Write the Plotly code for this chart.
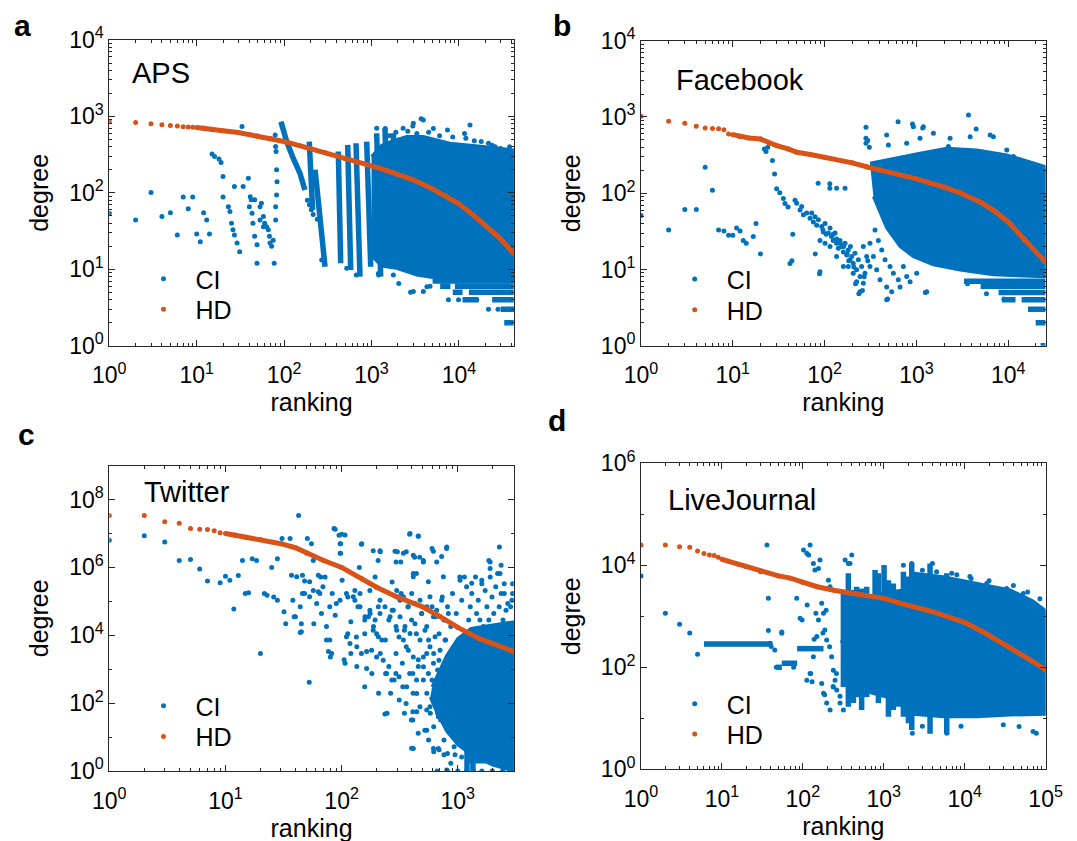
import plotly.graph_objects as go
from plotly.subplots import make_subplots

BLUE = "#0072BD"
ORANGE = "#D95319"
AXIS = "#262626"
FONT = "Liberation Sans, Arial, Helvetica, sans-serif"
W, H = 1077, 841
OFF = 8  # the html page puts the figure 8px in from the corner

# ---------------- a: APS ----------------
aps_hd_rank = [1, 2, 3, 4, 5, 6, 7, 8, 9, 10, 12, 15, 20, 30, 40, 50, 70, 100, 150, 200, 300,
               500, 700, 1000, 1500, 2000, 3000, 5000, 7000, 10000, 15000, 20000, 30000, 42500]
aps_hd_degree = [850, 830, 800, 780, 760, 750, 735, 728, 722, 718, 705, 680, 650, 615, 580, 555, 515,
                 470, 415, 380, 335, 280, 250, 225, 195, 175, 148, 112, 92, 72, 50, 38, 25, 16]
aps_ci_rank = [1, 2, 3, 4, 5, 6, 7, 8, 9, 10, 11, 12, 13, 14,
               15, 16, 18, 19, 20, 20, 23, 24, 25, 26, 27, 29, 31, 27, 33, 34, 39,
               41, 42, 46, 40, 43, 44, 46, 49, 55, 53, 58, 60, 63, 66, 68, 69, 72, 75,
               49, 77, 53, 58, 79, 80, 81, 82, 83, 82, 80, 80,
               185, 195, 205, 215, 240, 269, 520, 670, 1208, 1778,
               1146, 1436, 2050, 2970, 3010, 3700, 3917, 5100, 7400, 11600, 13400, 21800, 26000, 34000,
               1200, 2050, 2800, 3010, 3917, 4300, 4670, 7590, 9900, 16000, 21800, 28000, 36000, 41700,
               1600, 1900, 2300, 2600, 3300, 4500, 6000, 8500, 12000, 15000, 18000, 24000, 30000, 38000]
aps_ci_degree = [54, 44, 101, 49, 55, 28, 88, 62, 88, 29, 23, 55, 44, 29,
                 323, 300, 277, 250, 164, 88, 66, 57, 40, 33, 28, 22, 17, 121, 736, 121, 155,
                 89, 81, 81, 66, 54, 40, 27, 21, 73, 66, 49, 40, 36, 33, 27, 22, 20, 24,
                 12, 12, 44, 36, 573, 404, 348, 200, 140, 94, 66, 44,
                 80, 70, 60, 52, 45, 13.2, 10.3, 8.4, 8.4, 8.4,
                 700, 695, 490, 750, 815, 930, 900, 695, 665, 600, 775, 445, 400, 325,
                 8.8, 6.5, 5, 5.1, 5.1, 5.9, 6.0, 4.0, 4.0, 4.0, 3, 3, 2, 3,
                 560, 620, 700, 640, 600, 620, 560, 540, 520, 480, 470, 420, 380, 400]
# dense core of the CI cloud (outline)
aps_cloud_rank = [1000, 1309, 1778, 2528, 3917, 7907, 19010, 42500, 42500, 7907, 3289, 1941, 1300, 1000]
aps_cloud_degree = [300, 420, 480, 545, 545, 446, 403, 364, 6.9, 7.2, 8.4, 10.3, 11, 15]
# diagonal streaks of CI points and the rows of equal low degree
aps_streak_rank = [92, 107, 127, 152, 173, None, 194, 212, None, 226, 294, None, 417, 444, None,
                   534, 578, None, 665, 738, None, 881, 979, None, 1146, 1274, None, 1426, 1558, None,
                   1778, 1941, None,
                   5000, 42500, None, 6100, 8000, None, 9000, 42500, None, 8500, 11000, None,
                   13000, 42500, None, 11000, 16700, None, 24000, 42500, None, 30000, 42500, None,
                   33000, 42500]
aps_streak_degree = [855, 468, 284, 180, 109, None, 468, 60, None, 200, 10.8, None, 347, 12, None,
                     424, 9.8, None, 446, 8.0, None, 468, 10.8, None, 603, 8.0, None, 700, 10.8, None,
                     603, 13.2, None,
                     7, 7, None, 6, 6, None, 6, 6, None, 5, 5, None,
                     5, 5, None, 4, 4, None, 4, 4, None, 3, 3, None,
                     2, 2]

# ---------------- b: Facebook ----------------
fb_hd_rank = [1, 2, 3, 4, 5, 6, 7, 8, 9, 10, 12, 15, 20, 25, 30, 40, 50, 70, 100, 200, 300, 500,
              1000, 2000, 3000, 5000, 7000, 10000, 15000, 20000, 25500]
fb_hd_degree = [1018, 875, 825, 753, 716, 703, 700, 680, 598, 586, 552, 530, 514, 451, 421, 381, 344,
                321, 296, 250, 219, 189, 154, 120, 101, 76, 59, 42, 24, 17, 12.5]
fb_ci_rank = [1, 2, 3, 4, 5, 6, 7, 8, 9, 10, 11, 12, 13, 14, 16.7, 17.9, 20,
              22, 23, 24, 27, 28.5, 30, 32.5, 35.5, 37, 40, 42, 44, 45,
              47.6, 49.6, 54, 56.2, 58.7, 63.8, 69.4, 72.3, 75.4, 78.6, 82, 85.5, 93, 96.9, 101,
              110, 114.5, 119, 124, 130, 135, 141, 147, 153, 160,
              167, 174, 181, 189, 197, 205, 214, 223, 233, 243, 253, 264, 275, 223, 243,
              135, 160, 114.5, 101, 89, 181, 205, 287, 312, 264,
              88, 96, 104, 114, 124, 135, 148, 161, 176, 183, 191, 208, 217, 236, 258,
              270, 295, 85, 114, 135, 167, 79, 89, 474, 282, 295, 307,
              282, 282, 474, 495, 631, 783, 905, 927, 1094, 1170, 1191, 1531, 2230, 2328,
              3690, 3850, 4470, 6350, 6890, 9640, 11400, 485, 1250, 1294, 3600, 5790, 8950,
              354, 385, 419, 455, 516, 561, 635, 721, 783, 312, 340, 369, 401, 474, 538, 663, 853, 1007]
fb_ci_degree = [51, 33, 61, 61, 219, 109, 33, 32, 28, 28, 35, 32, 24, 22, 27, 40, 16,
                381, 351, 400, 268, 179, 114, 101, 85, 73, 66, 12, 13, 29,
                81, 74, 60, 67, 52, 55, 47, 55, 42, 49, 38, 45, 36.5, 31, 40,
                30, 35, 27, 24, 30, 22, 19, 24, 20, 17,
                22, 15.5, 18, 13.4, 14.8, 12.1, 16.3, 9.9, 13.4, 8.1, 10.9, 6.6, 8.9, 6.9, 5.1,
                14.8, 10.9, 20, 22, 24, 10.9, 8.9, 14.8, 10.9, 20,
                8.8, 33, 29, 133, 29, 25, 22, 20, 16, 13, 20, 10.8, 6.5, 4.8, 5.3,
                8, 13, 135, 116, 116, 116, 16, 9.3, 4.0, 731, 490, 400,
                525, 451, 579, 429, 867, 451, 808, 745, 525, 716, 745, 610, 410, 525,
                1062, 551, 695, 579, 551, 368, 302, 4.1, 5, 5.1, 6.5, 4.8, 4.1,
                33, 24, 18, 13.4, 10.9, 8.9, 7.3, 10.9, 8.1, 22, 14.8, 9.9, 7.3, 5.9, 5.1, 5.9, 6.9, 8.9]
fb_cloud_rank = [312, 561, 1094, 2138, 4540, 9640, 25500, 25500, 6890, 2990, 1531, 927, 663, 474, 340]
fb_cloud_degree = [247, 287, 334, 388, 369, 318, 223, 8.0, 8.5, 9.8, 11.5, 14.7, 20, 35, 90]
fb_streak_rank = [3300, 25500, None, 5000, 25500, None, 7850, 25500, None, 8550, 12000, None,
                  14000, 25500, None, 16400, 25500, None, 19900, 25500, None, 22500, 25500]
fb_streak_degree = [7, 7, None, 6, 6, None, 5, 5, None, 4, 4, None,
                    4, 4, None, 3, 3, None, 2, 2, None, 1, 1]

# ---------------- c: Twitter ----------------
tw_hd_rank = [1, 2, 3, 4, 5, 6, 7, 8, 9, 10, 12, 15, 20, 30, 40, 50, 70, 100, 150, 200, 300, 500,
              700, 1000, 1500, 2000, 3035]
tw_hd_degree = [3.4e7, 3.4e7, 2.2e7, 2.0e7, 1.4e7, 1.33e7, 1.3e7, 1.2e7, 1.05e7, 1.0e7, 9.0e6, 7.8e6,
                6.6e6, 5.0e6, 3.8e6, 2.6e6, 1.6e6, 1.0e6, 4.6e5, 2.6e5, 1.35e5, 6.8e4, 3.6e4, 1.7e4,
                8.2e3, 5.5e3, 3.3e3]
tw_ci_rank = [1, 2, 3, 4, 5, 6, 7, 9, 10, 10.9, 11.8, 12.9, 14.8, 15.8, 14, 17, 18.5, 20, 21.6, 22.8,
              25, 26, 28, 28, 30.7,
              31.9, 33, 36, 37, 40, 42.6, 44, 46, 48, 50.7, 52.6, 55, 57, 57.6, 63, 65, 67, 72, 74, 77,
              80, 83, 86, 90, 95,
              98, 98, 101, 105, 113, 120, 130, 138, 142, 148, 158, 170, 181, 194, 207, 215, 222, 236,
              246, 255, 272, 294, 302, 312, 325,
              347, 360, 385, 400, 410, 425, 440, 457, 470, 505, 520, 540, 600, 620, 670, 690, 760, 800,
              870, 930, 1140, 1850, 2280, 2360, 2510, 2960, 2920,
              113, 120, 134, 148, 158, 176, 188, 200, 215, 238, 255, 272, 294, 312, 333, 360, 372, 400,
              410, 440, 457, 488, 505, 540, 560,
              600, 620, 645, 670, 690, 715, 735, 760, 785, 815, 840, 870, 900, 930, 970, 1000, 1040,
              1080, 1110, 1190, 1240, 1280, 1320, 1420, 1450,
              1500, 1550, 1610, 1660, 1720, 1780, 1850, 1900, 1970, 2040, 2120, 2200, 2270, 2360, 2450,
              2510, 2600, 2690, 2790, 2850, 2960,
              410, 540, 620, 760, 815, 870, 930, 1080, 664, 815, 1000, 1187, 1360, 1610, 1980, 2430, 3035,
              88, 100, 107, 97, 149, 97, 388, 457, 187, 214, 206, 288, 340, 294, 323, 414, 617, 726,
              803, 505, 414, 414, 658, 558, 751,
              1045, 1318, 1607, 1897, 1897, 2307, 41, 48, 53, 57, 63, 69, 66, 38, 46, 44, 39, 45, 45,
              53, 61, 79, 88, 97, 110,
              126, 144, 175, 214, 74, 79, 82, 107, 135, 164, 110, 118, 135, 164, 200, 228, 244, 270,
              363, 443, 576, 680, 443, 540,
              617, 680, 414, 946, 803,
              298, 318, 340, 375, 401, 428, 473, 489, 540, 576, 617, 658, 726, 776, 829, 318, 351, 388,
              428, 473, 522, 576, 637, 703, 776, 857, 340, 375, 414, 457, 505, 558, 617, 680, 751, 829,
              916, 979, 298, 279, 261, 236, 214, 194, 175, 159, 144, 130, 187, 207,
              293, 336, 359, 412, 441, 472, 506, 541, 580, 600, 642, 688, 712, 736, 762, 815, 844, 873,
              922, 968, 264, 283, 313, 347, 385, 398, 456, 560, 208, 239, 158, 182]
tw_ci_degree = [6.3e6, 8.5e6, 5.6e6, 1.6e6, 1.7e6, 8.9e5, 4.0e5, 3.5e5, 5.5e5, 4.2e5, 5.9e4, 5.8e5,
                1.7e5, 1.8e5, 1.6e6, 1.8e6, 1.6e6, 2.9e3, 1.7e5, 1.5e5, 1.0e6, 1.35e5, 1.8e6, 1.08e5,
                7.1e6,
                4.9e4, 2.2e4, 7.1e6, 5.9e5, 3.5e4, 3.4e7, 1.2e4, 5.9e5, 1.7e5, 7.1e6, 410, 5.0e6, 1.6e6,
                2.2e4, 5.9e5, 1.7e5, 4.4e4, 5.2e5, 7.2e3, 3.3e3, 2.3e3, 1.7e5, 1.4e7, 8.7e4, 8.9e6,
                5.0e6, 2.6e6, 4.2e5, 1.9e3, 1.35e5, 2.5e4, 2.1e5, 6.9e4, 1.0e6, 4.8e6, 1.1e4, 3.5e4,
                3.6e3, 5.2e5, 6.9e4, 2.9e6, 7.2e3, 48, 50, 2.8e4, 3.7e5, 2.9e3, 2.9e6, 600, 1.7e5,
                1.4e4, 2.9e6, 9.5e6, 4.7, 56, 2.0e6, 6.6e5, 8.3e6, 2.0e6, 1.6e6, 16, 2.9e3, 3.6e6, 3.7,
                50, 4.2, 3, 3.6e6, 63, 25, 5.2e5, 1.6e6, 4.0e6, 1.15e6, 1.7e5, 3.3e5, 1.08e5,
                1.1e4, 2.9e3, 8.9e3, 2.9e3, 2.8e4, 4.4e4, 1.8e4, 1.1e4, 2.9e3, 7.2e3, 1.2e3, 5.5e4,
                1.8e4, 8.9e3, 1.5e3, 4.6e3, 6.9e4, 2.8e4, 750, 1.1e4, 1.9e3, 4.4e4, 480, 1.8e4, 7.2e3,
                6.9e4, 2.9e3, 3.5e4, 940, 1.1e4, 300, 1.35e5, 2.8e4, 7.2e3, 6.9e4, 750, 1.8e4, 1.7e5,
                3.6e3, 4.4e4, 1.2e3, 5.2e5, 1.08e5, 300, 2.7e5, 2.8e4, 6.9e4, 1.7e5, 5.2e5, 4.4e4,
                1.08e5, 2.8e4, 3.3e5, 1.8e4, 2.1e5, 6.9e4, 2.8e4, 5.2e5, 1.35e5, 4.4e4, 2.7e5, 6.6e5,
                6.9e4, 1.7e5, 2.8e4, 3.3e5, 5.5e4, 8.7e4, 2.2e4, 6.9e4, 1.7e5,
                32, 63, 20, 8.2, 3.3, 1.7, 5.2, 2.6, 1, 1, 1, 1, 1, 1, 1, 1, 1,
                1.33e7, 9.5e6, 9.0e6, 5.0e6, 5.0e6, 2.6e6, 1.0e7, 8.4e6, 3.1e6, 3.1e6, 1.6e6, 3.0e6,
                2.6e6, 1.45e6, 1.45e6, 2.3e6, 3.0e6, 2.1e6, 4.0e6, 1.45e6, 6.6e5, 5.3e5, 1.45e6,
                3.75e5, 5.3e5,
                4.2e5, 3.4e5, 4.2e5, 9.3e5, 1.45e6, 6.6e5, 5.3e5, 4.0e5, 3.75e5, 2.1e5, 1.9e5, 2.7e5,
                5.2e5, 1.08e5, 1.7e5, 6.9e4, 3.5e4, 2.2e4, 1.26e4, 1.36e5, 8.6e4, 6.9e4, 3.9e4, 1.08e5,
                1.7e5,
                1.36e5, 1.7e5, 2.1e5, 1.08e5, 1.8e4, 7.2e3, 2.9e3, 1.5e3, 1.2e3, 1.05e3, 9e3, 5.7e3,
                4.6e3, 3.3e3, 2.3e3, 1.85e3, 750, 478, 303, 193, 78, 40, 56, 16,
                4.6, 4.6, 4.6, 3.0, 1.07,
                2.1e5, 1.08e5, 1.36e5, 6.9e4, 1.7e5, 8.6e4, 1.08e5, 4.4e4, 6.9e4, 1.36e5, 3.5e4, 5.5e4,
                1.08e5, 2.8e4, 4.4e4, 3.5e4, 1.8e4, 1.13e4, 2.2e4, 7.2e3, 1.4e4, 4.6e3, 9.0e3, 3.6e3,
                7.2e3, 2.3e3, 7.2e3, 3.6e3, 2.3e3, 1.2e3, 2.3e3, 750, 1.5e3, 478, 940, 303, 123, 193,
                1.4e4, 5.5e4, 3.5e4, 6.9e4, 4.4e4, 2.8e4, 5.5e4, 3.5e4, 6.9e4, 1.08e5, 1.4e4, 9.0e3,
                750, 304, 98, 194, 478, 78, 1.18e3, 194, 50, 478, 98, 1.85e3, 32, 304, 750, 78, 20, 381,
                154, 10, 194, 478, 123, 50, 750, 32, 13, 8.2, 194, 750, 304, 750]
tw_cloud_rank = [600, 800, 1000, 1300, 2000, 3035, 3035, 2000, 1300, 1000, 800, 650, 580]
tw_cloud_degree = [300, 2500, 8000, 1.6e4, 2.0e4, 2.5e4, 1, 1.5, 3, 6, 15, 60, 150]
tw_streak_rank = [1187, 3035, None, 1187, 3035, None, 1200, 1200, None, 1350, 1350]
tw_streak_degree = [2, 2, None, 3, 3, None, 12, 1, None, 8, 1]

# ---------------- d: LiveJournal ----------------
lj_hd_rank = [1, 2, 3, 4, 5, 6, 7, 8, 9, 10, 12, 16, 20, 30, 50, 70, 100, 150, 250, 400, 600, 1000,
              1500, 2500, 4000, 6500, 10000, 18000, 30000, 47000, 70000, 100000]
lj_hd_degree = [2.5e4, 2.5e4, 2.3e4, 2.25e4, 1.9e4, 1.7e4, 1.6e4, 1.55e4, 1.44e4, 1.31e4, 1.2e4,
                1.05e4, 9.4e3, 7.5e3, 6.2e3, 5.6e3, 4.6e3, 3.8e3, 3.2e3, 2.8e3, 2.55e3, 2.25e3,
                1.85e3, 1.5e3, 1.23e3, 950, 760, 465, 290, 188, 129, 89]
lj_ci_rank = [1, 2, 3, 4, 5, 36, 37.5, 37.5, 39.3, 40.6, 45, 47, 54.8, 55, 77,
              84, 92.4, 102, 112, 118, 123, 135, 141, 156, 163, 171, 180, 187, 197, 207, 217, 227, 238,
              250, 262, 112, 123, 135, 149, 156,
              171, 180, 197, 217, 238, 288, 317, 383, 402, 333, 365, 98, 113, 125, 130, 145, 138, 177,
              194, 214, 186, 237, 260, 288, 350,
              1749, 2217, 3990, 6920, 11600, 18700, 33000, 53000, 2256, 6010, 3000, 9000, 30000, 47000,
              70000, 76800,
              3000, 4500, 8000, 12000, 20000, 40000, 60000, 85000]
lj_ci_degree = [6.2e3, 1.15e3, 700, 470, 180, 2.5e4, 2.25e3, 525, 295, 255, 219, 100, 464, 490, 100,
                2.25e3, 914, 2.0e4, 1.72e4, 1.6e4, 2.5e4, 1.09e4, 8.1e3, 8.7e3, 1.27e4, 1.8e3, 1.15e3,
                540, 343, 5.1e3, 3.8e3, 161, 88, 56, 36, 56, 76, 161, 400, 848,
                48, 31, 20, 14.5, 41, 20, 14.5, 1.09e4, 1.6e4, 1.27e4, 1.09e4, 850, 1.66e3, 76, 52,
                1.15e3, 355, 470, 1.32e3, 252, 29, 42, 76, 27, 56,
                1.0e4, 1.09e4, 1.09e4, 7.0e3, 6.0e3, 4.4e3, 3.5e3, 2.8e3, 5.1, 5.1, 7, 7, 7.5, 6.9,
                5.5, 5.1,
                8000, 7500, 6500, 5500, 5000, 4000, 3000, 2200]
lj_cloud_rank = [300, 400, 600, 900, 1750, 2323, 5455, 14080, 36380, 70000, 100000, 100000, 36380,
                 14080, 5455, 2323, 1300, 680, 420]
lj_cloud_degree = [300, 1500, 2400, 2800, 3300, 7000, 6000, 4400, 3300, 2000, 1300, 12, 11.6,
                   10.7, 10.7, 12, 24, 32, 60]
lj_streak_rank = [317, 317, None, 365, 365, None, 421, 421, None, 462, 462, None, 533, 533, None,
                  615, 615, None, 781, 781, None, 859, 859, None, 1009, 1009, None, 1142, 1142, None,
                  1314, 1314, None, 1517, 1517, None, 1749, 1749, None, 2018, 2018, None, 2217, 2217,
                  None, 3733, 3733, None, 5998, 5998, None,
                  6, 42, None, 47, 55, None, 55, 85, None, 85, 180]
lj_streak_degree = [3300, 41, None, 7000, 16.9, None, 3300, 20, None, 3800, 26, None, 3500, 14.5, None,
                    3800, 26, None, 8100, 48, None, 7000, 20, None, 10100, 26, None, 5100, 10.7, None,
                    4400, 14.5, None, 3300, 16.9, None, 7500, 10.7, None, 6000, 8.0, None, 10900, 5.9,
                    None, 10900, 5.0, None, 7000, 5.0, None,
                    285, 285, None, 100, 100, None, 120, 120, None, 232, 232]


def sup_ticks(exponents):
    return [10 ** k for k in exponents], ["10<sup>%d</sup>" % k for k in exponents]


def minor_ticks(lo, hi):
    return [m * 10 ** k for k in range(lo, hi) for m in range(2, 10)]


def add_panel(fig, row, col, ci_rank, ci_degree, cloud_rank, cloud_degree,
              streak_rank, streak_degree, hd_rank, hd_degree, legend_ci, legend_hd):
    """Draws one CI / HD comparison: dense CI cloud, CI streaks, CI points, HD curve."""
    assert len(ci_rank) == len(ci_degree)
    assert len(hd_rank) == len(hd_degree)
    fig.add_trace(go.Scatter(x=cloud_rank, y=cloud_degree, mode="lines", fill="toself",
                             fillcolor=BLUE, line=dict(color=BLUE, width=3),
                             showlegend=False, hoverinfo="skip"), row=row, col=col)
    fig.add_trace(go.Scatter(x=streak_rank, y=streak_degree, mode="lines",
                             line=dict(color=BLUE, width=5.5),
                             showlegend=False, hoverinfo="skip"), row=row, col=col)
    fig.add_trace(go.Scatter(x=ci_rank, y=ci_degree, mode="markers", name="CI",
                             marker=dict(color=BLUE, size=5), legend=legend_ci),
                  row=row, col=col)
    # ranks beyond ~10 are so close together that the dots merge into a thick curve
    tail = [(r, d) for r, d in zip(hd_rank, hd_degree) if r >= 10]
    fig.add_trace(go.Scatter(x=[t[0] for t in tail], y=[t[1] for t in tail], mode="lines",
                             line=dict(color=ORANGE, width=5),
                             showlegend=False, hoverinfo="skip"), row=row, col=col)
    fig.add_trace(go.Scatter(x=hd_rank, y=hd_degree, mode="markers", name="HD",
                             marker=dict(color=ORANGE, size=5), legend=legend_hd),
                  row=row, col=col)


fig = make_subplots(rows=2, cols=2)

add_panel(fig, 1, 1, aps_ci_rank, aps_ci_degree, aps_cloud_rank, aps_cloud_degree,
          aps_streak_rank, aps_streak_degree, aps_hd_rank, aps_hd_degree, "legend", "legend2")
add_panel(fig, 1, 2, fb_ci_rank, fb_ci_degree, fb_cloud_rank, fb_cloud_degree,
          fb_streak_rank, fb_streak_degree, fb_hd_rank, fb_hd_degree, "legend3", "legend4")
add_panel(fig, 2, 1, tw_ci_rank, tw_ci_degree, tw_cloud_rank, tw_cloud_degree,
          tw_streak_rank, tw_streak_degree, tw_hd_rank, tw_hd_degree, "legend5", "legend6")
add_panel(fig, 2, 2, lj_ci_rank, lj_ci_degree, lj_cloud_rank, lj_cloud_degree,
          lj_streak_rank, lj_streak_degree, lj_hd_rank, lj_hd_degree, "legend7", "legend8")


def px_x(px):
    return (px - OFF) / W


def px_y(py):
    return 1 - (py - OFF) / H


# plot areas in page pixels: left, right, top, bottom
panels = {
    (1, 1): dict(box=(109.3, 513.8, 40.0, 345.7), xlog=4.628, xexp=range(0, 5),
                 ylog=4, yexp=range(0, 5), yminor=minor_ticks(0, 4)),
    (1, 2): dict(box=(641.0, 1045.6, 40.7, 345.7), xlog=4.407, xexp=range(0, 5),
                 ylog=4, yexp=range(0, 5), yminor=minor_ticks(0, 4)),
    (2, 1): dict(box=(109.3, 513.8, 465.6, 771.0), xlog=3.482, xexp=range(0, 4),
                 ylog=9, yexp=range(0, 9, 2), yminor=[10 ** k for k in (1, 3, 5, 7, 9)]),
    (2, 2): dict(box=(641.0, 1045.6, 463.3, 769.3), xlog=5.0, xexp=range(0, 6),
                 ylog=6, yexp=range(0, 7, 2), yminor=[10 ** k for k in (1, 3, 5)]),
}

for (row, col), p in panels.items():
    left, right, top, bottom = p["box"]
    xv, xt = sup_ticks(p["xexp"])
    yv, yt = sup_ticks(p["yexp"])
    common = dict(type="log", ticks="inside", ticklen=6, tickwidth=1, tickcolor=AXIS,
                  showline=True, linecolor=AXIS, linewidth=1, mirror="ticks",
                  showgrid=False, zeroline=False, tickfont=dict(size=23, color="black"))
    fig.update_xaxes(domain=[px_x(left), px_x(right)], range=[0, p["xlog"]],
                     tickmode="array", tickvals=xv, ticktext=xt, ticklabelstandoff=9,
                     minor=dict(tickmode="array", tickvals=minor_ticks(0, 6), ticks="inside",
                                ticklen=3, tickcolor=AXIS, showgrid=False),
                     title=dict(text="ranking", font=dict(size=25, color="black"), standoff=4),
                     row=row, col=col, **common)
    fig.update_yaxes(domain=[px_y(bottom), px_y(top)], range=[0, p["ylog"]],
                     tickmode="array", tickvals=yv, ticktext=yt,
                     minor=dict(tickmode="array", tickvals=p["yminor"], ticks="inside",
                                ticklen=3, tickcolor=AXIS, showgrid=False),
                     title=dict(text="degree", font=dict(size=25, color="black"), standoff=13),
                     row=row, col=col, **common)

# network names inside the panels
names = [("APS", 130.2, 73.0), ("Facebook", 673.7, 80.0),
         ("Twitter", 141.5, 491.5), ("LiveJournal", 666.1, 500.0)]
for text, px, py in names:
    fig.add_annotation(text=text, xref="paper", yref="paper", x=px_x(px), y=px_y(py),
                       xanchor="left", yanchor="middle", showarrow=False,
                       font=dict(size=29, color="black"))

# panel letters
letters = [("a", 22.4, 26), ("b", 562.0, 25), ("c", 26.0, 434), ("d", 556.5, 421)]
for text, px, py in letters:
    fig.add_annotation(text=text, xref="paper", yref="paper", x=px_x(px), y=px_y(py),
                       xanchor="center", yanchor="middle", showarrow=False,
                       font=dict(size=30, color="black", weight="bold"))

# one legend per entry so each row sits where the original has it
legend_spots = {"legend": (163.5, 279.0), "legend2": (163.5, 309.5),
                "legend3": (694.7, 279.3), "legend4": (694.7, 310.0),
                "legend5": (163.5, 706.0), "legend6": (163.5, 736.7),
                "legend7": (694.7, 704.0), "legend8": (694.7, 734.3)}
legend_layout = {}
for name, (dot_x, dot_y) in legend_spots.items():
    legend_layout[name] = dict(x=px_x(dot_x - 32), y=px_y(dot_y), xref="paper", yref="paper",
                               xanchor="left", yanchor="middle", bgcolor="rgba(0,0,0,0)",
                               borderwidth=0, itemwidth=54, font=dict(size=25, color="black"))

fig.update_layout(width=W, height=H, margin=dict(l=0, r=0, t=0, b=0),
                  template="none", paper_bgcolor="white", plot_bgcolor="white",
                  font=dict(family=FONT, color="black"), **legend_layout)

fig.write_html("out.html")
